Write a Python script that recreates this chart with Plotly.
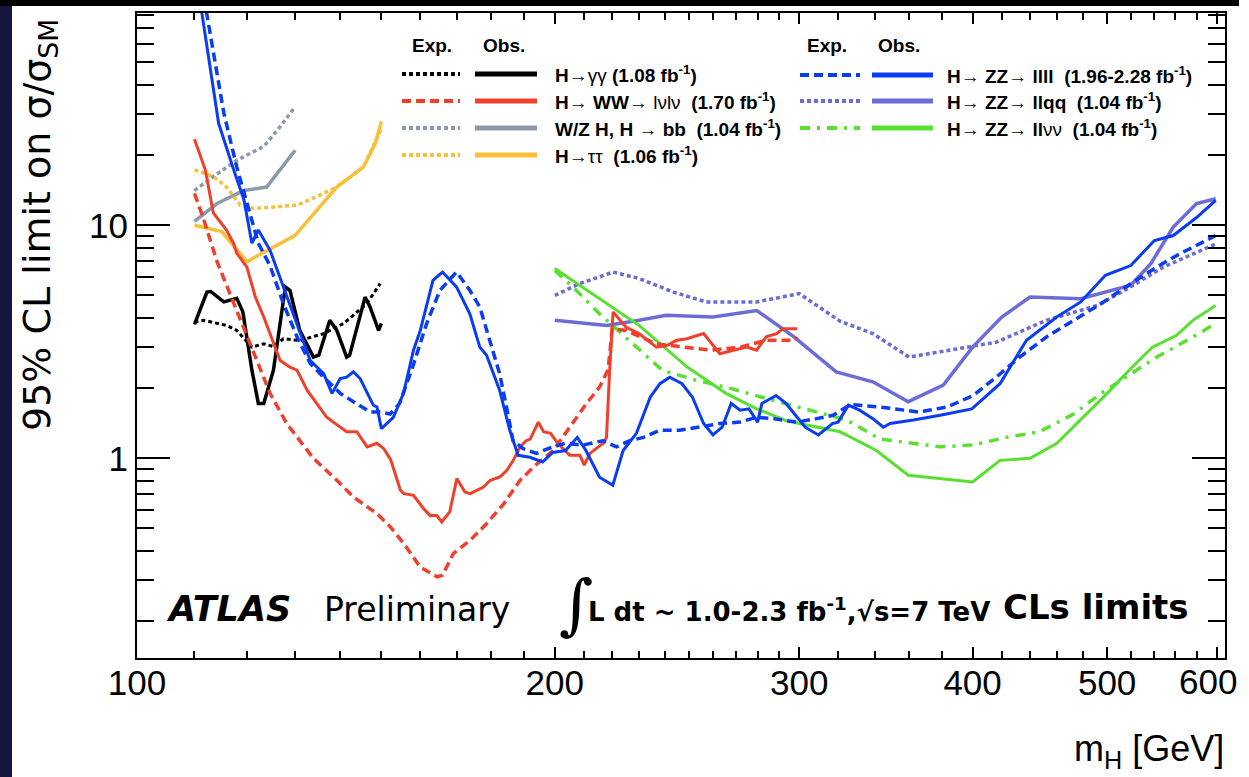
import plotly.graph_objects as go
import numpy as np

# ---------------- data (m_H in GeV, 95% CL limit on sigma/sigma_SM) ----------------
gg_obs_m = [110, 112.3, 113, 115.5, 118, 119.2, 121, 122.3, 123.4, 125.4, 127.9, 128.9, 131, 134, 135.2,
            137.7, 139.3, 141.6, 142.3, 146, 147.2, 149.3, 150]
gg_obs_v = [3.76, 5.17, 5.2, 4.69, 4.86, 4.25, 2.39, 1.72, 1.72, 2.39, 5.44, 5.25, 3.54, 2.72, 2.77,
            3.91, 3.54, 2.72, 2.77, 4.92, 4.46, 3.54, 3.79]
gg_exp_m = [110, 111.7, 116, 118, 121, 123.4, 125.4, 127.5, 131, 136.3, 140.9, 146.4, 149.7]
gg_exp_v = [3.85, 3.91, 3.72, 3.54, 3.0, 3.1, 3.02, 3.26, 3.2, 3.43, 3.79, 4.61, 5.62]

ww_obs_m = [110, 112, 113.5, 116, 117.4, 118, 120, 121.7, 123.4, 124.7, 126.8, 128.9, 130.4, 132.6, 134.8,
            137, 138.5, 141.6, 144, 146.5, 148.9, 150.6, 152.3, 154.8, 155.7, 158.2, 160.9, 162.6, 164.4,
            165.8, 168, 170, 172.3, 173.8, 177.7, 179.7, 182.6, 184.7, 186.7, 188.8, 190.7, 192, 194.6,
            196.3, 198.6, 201, 205, 208.5, 210, 212, 216.7, 217.9, 219, 220.3, 225, 230, 236.7, 240.7,
            244.9, 249, 256, 259, 263, 269, 275, 279.5, 284, 289, 292, 299]
ww_obs_v = [23.4, 17.3, 11.3, 9.55, 8.34, 7.59, 6.62, 4.92, 4.04, 3.43, 2.63, 2.46, 2.39, 1.96, 1.72,
            1.50, 1.43, 1.30, 1.30, 1.12, 1.16, 1.10, 0.99, 0.729, 0.705, 0.694, 0.608, 0.569, 0.569,
            0.533, 0.589, 0.818, 0.717, 0.705, 0.753, 0.805, 0.832, 0.888, 0.98, 1.12, 1.19, 1.21, 1.43,
            1.30, 1.28, 1.16, 1.03, 1.03, 0.934, 1.05, 1.16, 1.23, 2.31, 4.25, 3.66, 3.43, 3.0, 3.05,
            3.21, 3.26, 3.43, 3.15, 2.81, 2.91, 3.0, 2.91, 3.32, 3.43, 3.6, 3.6]
ww_exp_m = [110, 111.7, 114.2, 117.4, 120.7, 124.7, 128.2, 132.6, 134, 139.3, 143.2, 148.9, 152.3, 155.7,
            160, 164.5, 166, 169, 173.8, 178.6, 183.8, 188.8, 193.7, 199.5, 202.6, 210.8, 215.4, 218.5,
            220, 225, 236.7, 249, 259, 272, 284, 297, 299]
ww_exp_v = [13.7, 10.6, 6.98, 4.61, 3.1, 1.90, 1.41, 1.08, 1.0, 0.805, 0.682, 0.579, 0.507, 0.43,
            0.341, 0.31, 0.315, 0.39, 0.445, 0.524, 0.639, 0.805, 0.934, 1.08, 1.23, 1.72, 2.02, 2.4,
            3.6, 3.54, 3.1, 3.0, 2.91, 3.0, 3.21, 3.21, 3.3]

bb_obs_m = [110, 114.2, 119.4, 124, 130]
bb_obs_v = [10.4, 12.4, 14.1, 14.6, 21.0]
bb_exp_m = [110, 113.5, 118, 123.4, 126.8, 130]
bb_exp_v = [14.1, 16.2, 19.0, 21.8, 26.5, 32.3]

tt_obs_m = [110, 115.1, 120, 130, 139.3, 145.6, 148.5, 150]
tt_obs_v = [10.0, 9.4, 6.98, 9.05, 14.6, 17.8, 22.5, 27.9]
tt_exp_m = [110, 113.5, 116, 118.7, 121.4, 126, 130.4, 134.8, 139.3, 145.6, 148.9, 150]
tt_exp_v = [17.3, 16.2, 14.6, 12.2, 11.8, 12.0, 12.2, 13.3, 14.6, 17.8, 23.9, 26.0]

l4_obs_m = [110, 111.4, 114.5, 117.4, 119.4, 121, 122.3, 124.7, 127.5, 130.4, 133.3, 136.3, 138.2, 140.1,
            141.6, 143.2, 144.8, 148, 148.9, 150, 153, 155.6, 158.2, 160, 163.4, 166, 169.9, 173.7, 176.6,
            178.6, 182.5, 185.6, 188.2, 191.9, 196, 199.3, 203.6, 207.6, 210.6, 215.4, 220.2, 224, 229,
            234.3, 238.1, 242, 247, 251.3, 256, 260, 264, 268, 272, 276, 280, 282, 288.7, 293.5, 303,
            309.7, 317, 320, 325.5, 331.6, 339, 345, 348.8, 362.5, 379, 399.5, 418.6, 437.4, 459.9,
            478.6, 498.6, 520, 540.8, 558, 580, 598.7]
l4_obs_v = [132, 81, 27.4, 17.3, 12.9, 8.38, 9.55, 7.81, 5.44, 3.79, 2.63, 2.31, 1.90, 2.2,
            2.23, 2.35, 2.2, 1.69, 1.66, 1.34, 1.50, 1.90, 2.91, 3.54, 5.81, 6.30, 5.44, 4.17, 3.0,
            2.77, 1.96, 1.32, 1.03, 1.01, 0.964, 1.06, 1.08, 1.23, 1.08, 0.83, 0.766, 1.08, 1.28,
            1.83, 2.09, 2.23, 2.09, 1.83, 1.41, 1.26, 1.36, 1.72, 1.61, 1.63, 1.43, 1.72, 1.86, 1.72, 1.36,
            1.26, 1.41, 1.43, 1.69, 1.61, 1.48, 1.36, 1.41, 1.46, 1.53, 1.63, 2.09, 3.21, 4.04,
            4.69, 6.10, 6.72, 8.6, 9.04, 10.8, 12.8]
l4_exp_m = [110, 112.3, 115.5, 118, 120, 122.3, 124.7, 127.5, 130.4, 133.3, 136.3, 140.1, 143.2, 147.2,
            149.7, 152.2, 154.6, 158, 161.7, 165.3, 169.9, 173.7, 176.6, 179.6, 182.5, 184.6, 186.6,
            189.8, 194, 199.3, 203.6, 209.5, 216.6, 221.5, 226.5, 231.7, 238.1, 246, 254.5, 263, 272,
            279.5, 287.4, 298.8, 308.7, 317.3, 326.6, 343, 366, 383.4, 400.4, 416, 432.5, 452.2, 473,
            495, 520, 543, 563, 598.7]
l4_exp_v = [164, 81, 30.3, 17.8, 12.4, 8.38, 6.7, 4.61, 3.32, 2.55, 2.23, 1.90, 1.75, 1.58,
            1.58, 1.55, 1.72, 2.47, 3.79, 5.26, 6.30, 5.26, 4.46, 3.21, 2.31, 1.66, 1.19,
            1.10, 1.05, 1.12, 1.16, 1.14, 1.19, 1.12, 1.19, 1.23, 1.32, 1.32, 1.36, 1.41, 1.43,
            1.50, 1.48, 1.43, 1.48, 1.53, 1.70, 1.66, 1.58, 1.66, 1.86, 2.23, 2.72, 3.32, 3.91,
            4.61, 5.62, 6.62, 7.5, 9.04]

qq_obs_m = [200, 218, 230, 240.6, 260, 279.6, 297.4, 319, 339, 359.5, 381, 400, 419.8, 440, 478.6, 520,
            537.6, 558, 580, 598.7]
qq_obs_v = [3.91, 3.72, 3.91, 4.11, 4.04, 4.31, 3.32, 2.35, 2.13, 1.75, 2.06, 3.0, 4.04, 4.92, 4.84, 5.54,
            6.85, 9.83, 12.4, 13.0]
qq_exp_m = [200, 208.4, 220.3, 230, 243.5, 257, 279.6, 300, 321, 339, 360, 383.4, 416, 452, 492, 520, 549,
            598.7]
qq_exp_v = [5.0, 5.62, 6.30, 5.91, 5.17, 4.69, 4.69, 5.09, 3.88, 3.43, 2.72, 2.91, 3.15, 3.91, 4.53, 5.45,
            6.62, 8.32]

vv_obs_m = [200, 230, 249, 265.7, 279.6, 293.6, 321, 341, 359.5, 400, 418.6, 440, 460, 478.6, 500, 520, 539,
            561, 576.5, 598.7]
vv_obs_v = [6.52, 3.72, 2.47, 1.90, 1.63, 1.45, 1.30, 1.08, 0.846, 0.791, 0.98, 1.0, 1.16, 1.46, 1.90, 2.43,
            3.0, 3.37, 3.91, 4.53]
vv_exp_m = [200, 206, 215.4, 227.5, 239, 253, 265.7, 287.5, 312, 324.6, 343, 362.5, 379, 400, 423, 447, 473,
            495, 520, 543, 576.5, 598.7]
vv_exp_v = [6.4, 5.45, 4.17, 3.10, 2.39, 2.16, 2.02, 1.77, 1.55, 1.46, 1.21, 1.16, 1.12, 1.14, 1.23, 1.30,
            1.55, 1.90, 2.31, 2.72, 3.32, 3.79]

x_tick_vals = [100, 200, 300, 400, 500, 600]
x_tick_text = ["100", "200", "300", "400", "500", ""]   # "600" is written as an annotation (edge of page)
x_edge_label = "600"
y_tick_vals = [1, 10]

# ---------------- styles ----------------
BLACK = "#000000"
RED = "#f0402c"
GRAY = "#8a9aaa"
YELLOW = "#f8c038"
BLUE = "#0a3cf2"
LLQQ = "#6c6cd8"
GREEN = "#58e030"

D_DOT = "4px,3px"
D_DASH = "9px,5px"
D_DASHDOT = "10px,7px,3px,7px"

series = [
    (gg_exp_m, gg_exp_v, BLACK, D_DOT, 3),
    (gg_obs_m, gg_obs_v, BLACK, "solid", 3.5),
    (bb_exp_m, bb_exp_v, GRAY, D_DOT, 3.5),
    (bb_obs_m, bb_obs_v, GRAY, "solid", 3.5),
    (tt_exp_m, tt_exp_v, YELLOW, D_DOT, 3.5),
    (tt_obs_m, tt_obs_v, YELLOW, "solid", 3.5),
    (qq_exp_m, qq_exp_v, LLQQ, D_DOT, 3.5),
    (qq_obs_m, qq_obs_v, LLQQ, "solid", 3.5),
    (vv_exp_m, vv_exp_v, GREEN, D_DASHDOT, 3.5),
    (vv_obs_m, vv_obs_v, GREEN, "solid", 3),
    (ww_exp_m, ww_exp_v, RED, D_DASH, 3.5),
    (ww_obs_m, ww_obs_v, RED, "solid", 3),
    (l4_exp_m, l4_exp_v, BLUE, D_DASH, 3.5),
    (l4_obs_m, l4_obs_v, BLUE, "solid", 3),
]

fig = go.Figure()
for m, v, c, d, w in series:
    fig.add_trace(go.Scatter(x=m, y=v, mode="lines", line=dict(color=c, dash=d, width=w),
                             showlegend=False, hoverinfo="skip"))

# plot geometry in pixels (figure is drawn 1239 px wide: the viewport width that is really available)
L, R, T, B = 137, 1225, 13, 658
W, H = 1239, 777


def pxx(x):
    return (x - L) / (R - L)


def pxy(y):
    return (B - y) / (B - T)


SANS = "Liberation Sans, Arial"
WIDE = "DejaVu Sans"

shapes = []
annotations = []

# backgrounds: black top band and dark navy left strip of the slide
shapes.append(dict(type="rect", xref="paper", yref="paper", x0=pxx(-5), x1=pxx(1260), y0=pxy(6), y1=pxy(-5),
                   fillcolor="#000000", line=dict(width=0), layer="below"))
shapes.append(dict(type="rect", xref="paper", yref="paper", x0=pxx(-5), x1=pxx(12), y0=pxy(H + 5), y1=pxy(6),
                   fillcolor="#16173c", line=dict(width=0), layer="below"))

# y = 1 reference line
shapes.append(dict(type="line", xref="paper", yref="y", x0=0, x1=1, y0=0, y1=0,
                   line=dict(color="black", width=1.3, dash="6px,3px,2px,3px")))

# manual legend
NB = "&nbsp;"
legend_left = [
    (BLACK, D_DOT, "<b>H→</b>γγ <b>(1.08 fb<sup>-1</sup>)</b>"),
    (RED, D_DASH, f"<b>H→{NB}WW→{NB}</b>lνlν<b>{NB}{NB}(1.70 fb<sup>-1</sup>)</b>"),
    (GRAY, D_DOT, f"<b>W/Z H, H → bb{NB}{NB}(1.04 fb<sup>-1</sup>)</b>"),
    (YELLOW, D_DOT, f"<b>H→</b>ττ<b>{NB}{NB}(1.06 fb<sup>-1</sup>)</b>"),
]
legend_right = [
    (BLUE, D_DASH, f"<b>H→{NB}ZZ→{NB}llll{NB}{NB}(1.96-2.28 fb<sup>-1</sup>)</b>"),
    (LLQQ, D_DOT, f"<b>H→{NB}ZZ→{NB}llqq{NB}{NB}(1.04 fb<sup>-1</sup>)</b>"),
    (GREEN, D_DASHDOT, f"<b>H→{NB}ZZ→{NB}ll</b>νν<b>{NB}{NB}(1.04 fb<sup>-1</sup>)</b>"),
]


def add_legend_block(items, ex0, ex1, ox0, ox1, tx, ys, hx_exp, hx_obs, hy):
    for (c, d, txt), y in zip(items, ys):
        shapes.append(dict(type="line", xref="paper", yref="paper", x0=pxx(ex0), x1=pxx(ex1),
                           y0=pxy(y), y1=pxy(y), line=dict(color=c, dash=d, width=4)))
        shapes.append(dict(type="line", xref="paper", yref="paper", x0=pxx(ox0), x1=pxx(ox1),
                           y0=pxy(y), y1=pxy(y), line=dict(color=c, width=5)))
        annotations.append(dict(x=pxx(tx), y=pxy(y), xref="paper", yref="paper", text=txt, showarrow=False,
                                xanchor="left", yanchor="middle",
                                font=dict(family=SANS, size=19, color="black")))
    for hx, t in ((hx_exp, "<b>Exp.</b>"), (hx_obs, "<b>Obs.</b>")):
        annotations.append(dict(x=pxx(hx), y=pxy(hy), xref="paper", yref="paper", text=t,
                                showarrow=False, xanchor="center", yanchor="middle",
                                font=dict(family=SANS, size=19, color="black")))


add_legend_block(legend_left, 402, 460, 475, 537, 553, [74, 101, 128, 155], 432, 504, 46)
add_legend_block(legend_right, 800, 860, 872, 933, 945, [75, 101, 128], 827, 899, 46)

# bottom labels inside the frame
annotations += [
    dict(x=pxx(164), y=pxy(609), xref="paper", yref="paper", text="<b><i>ATLAS</i></b>", showarrow=False,
         xanchor="left", yanchor="middle", font=dict(family=WIDE, size=35, color="black")),
    dict(x=pxx(322), y=pxy(609), xref="paper", yref="paper", text="Preliminary", showarrow=False,
         xanchor="left", yanchor="middle", font=dict(family=WIDE, size=33, color="black")),
    dict(x=pxx(576), y=pxy(604), xref="paper", yref="paper", text="∫", showarrow=False,
         xanchor="center", yanchor="middle", font=dict(family="DejaVu Serif", size=66, color="black")),
    dict(x=pxx(586), y=pxy(610), xref="paper", yref="paper",
         text="<b>L dt ~ 1.0-2.3 fb<sup>-1</sup>,√s=7 TeV</b>", showarrow=False,
         xanchor="left", yanchor="middle",
         font=dict(family=WIDE, size=26, color="black")),
    dict(x=pxx(1001), y=pxy(607), xref="paper", yref="paper", text="<b>CLs limits</b>", showarrow=False,
         xanchor="left", yanchor="middle", font=dict(family=WIDE, size=34, color="black")),
    # axis titles
    dict(x=pxx(39), y=pxy(225), xref="paper", yref="paper", text="95% CL limit on σ/σ<sub>SM</sub>",
         showarrow=False, textangle=-90, xanchor="center", yanchor="middle",
         font=dict(family=WIDE, size=38, color="black")),
    dict(x=pxx(1226), y=pxy(751), xref="paper", yref="paper", text="m<sub>H</sub> [GeV]",
         showarrow=False, xanchor="right", yanchor="middle",
         font=dict(family=SANS, size=36, color="black")),
    # last x tick label, kept inside the page
    dict(x=pxx(1239), y=pxy(682), xref="paper", yref="paper", text=x_edge_label,
         showarrow=False, xanchor="right", yanchor="middle",
         font=dict(family=SANS, size=35, color="black")),
]

fig.update_layout(
    width=W, height=H, autosize=False,
    margin=dict(l=L, r=W - R, t=T, b=H - B),
    paper_bgcolor="white",
    plot_bgcolor="white",
    shapes=shapes,
    annotations=annotations,
    showlegend=False,
    font=dict(family=SANS, color="black"),
)

fig.update_xaxes(
    type="log", range=[2, np.log10(608)],
    tickmode="array", tickvals=x_tick_vals, ticktext=x_tick_text,
    ticks="inside", ticklen=11, tickwidth=1.5, tickcolor="black", ticklabelstandoff=-7,
    minor=dict(tickmode="array",
               tickvals=[110, 120, 130, 140, 150, 160, 170, 180, 190, 210, 220, 230, 240, 250, 260, 270, 280,
                         290, 320, 340, 360, 380, 420, 440, 460, 480, 520, 540, 560, 580],
               ticks="inside", ticklen=7, tickwidth=1.5, tickcolor="black", showgrid=False),
    showline=True, linecolor="black", linewidth=2, mirror="ticks",
    showgrid=False, zeroline=False,
    tickfont=dict(size=35, family=SANS, color="black"),
)
fig.update_yaxes(
    type="log", range=[np.log10(0.139), np.log10(81.5)],
    tickmode="array", tickvals=y_tick_vals, ticktext=[str(v) for v in y_tick_vals],
    ticks="inside", ticklen=33, tickwidth=1.5, tickcolor="black",
    minor=dict(tickmode="array",
               tickvals=[0.2, 0.3, 0.4, 0.5, 0.6, 0.7, 0.8, 0.9, 2, 3, 4, 5, 6, 7, 8, 9, 20, 30, 40, 50, 60, 70, 80],
               ticks="inside", ticklen=17, tickwidth=1.5, tickcolor="black", showgrid=False),
    showline=True, linecolor="black", linewidth=2, mirror="ticks",
    showgrid=False, zeroline=False,
    tickfont=dict(size=35, family=SANS, color="black"),
)

fig.write_html(
    "out.html",
    config={"displayModeBar": False, "responsive": False},
    post_script=("document.documentElement.style.margin='0px';document.documentElement.style.overflow='hidden';"
                 "document.body.style.margin='0px';document.body.style.padding='0px';"
                 "document.body.style.overflow='hidden';document.body.style.background='white';"),
)
